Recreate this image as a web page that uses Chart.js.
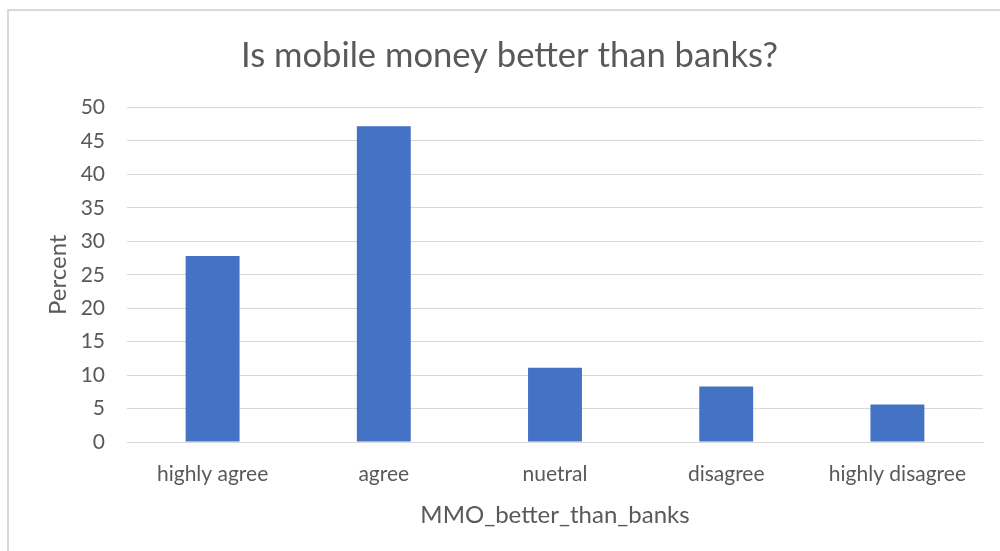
<!DOCTYPE html>
<html lang="en">
<head>
  <meta charset="UTF-8">
  <title>Is mobile money better than banks?</title>
  <script src="https://cdn.jsdelivr.net/npm/chart.js"></script>
  <style>
    html, body {
      margin: 0;
      padding: 0;
      background: #ffffff;
    }
    #wrap {
      position: relative;
      width: 1000px;
      height: 551px;
      overflow: hidden;
    }
    #frame {
      position: absolute;
      left: 7px;
      top: 9px;
      width: 1010px;
      height: 560px;
      border-left: 2px solid #d9d9d9;
      border-top: 2px solid #d9d9d9;
    }
    canvas {
      position: absolute;
      left: 0;
      top: 0;
    }
  </style>
</head>
<body>
  <div id="wrap">
    <div id="frame"></div>
    <canvas id="mmoChart" width="1000" height="551"></canvas>
  </div>

  <script>
    const categories = ['highly agree', 'agree', 'nuetral', 'disagree', 'highly disagree'];
    const percents = [27.8, 47.2, 11.1, 8.3, 5.6];
    const yTicks = [0, 5, 10, 15, 20, 25, 30, 35, 40, 45, 50];

    const textColor = '#595959';
    const gridColor = '#d9d9d9';
    const fontFamily = 'Lato, "Open Sans", sans-serif';

    const ctx = document.getElementById('mmoChart').getContext('2d');
    new Chart(ctx, {
      type: 'bar',
      data: {
        labels: categories,
        datasets: [{
          label: 'Percent',
          data: percents,
          backgroundColor: '#4472c4',
          categoryPercentage: 1,
          barPercentage: 0.315
        }]
      },
      options: {
        responsive: false,
        animation: false,
        layout: {
          // left padding keeps the title centred on the framed area
          padding: { top: 9, left: 36, right: 17, bottom: 0 }
        },
        plugins: {
          legend: { display: false },
          tooltip: { enabled: false },
          title: {
            display: true,
            text: 'Is mobile money better than banks?',
            color: textColor,
            font: { family: fontFamily, size: 34.6, weight: 'normal' },
            padding: { top: 26, bottom: 31 }
          }
        },
        scales: {
          x: {
            grid: { display: false, drawTicks: false },
            border: { display: true, color: gridColor, width: 1 },
            ticks: {
              color: textColor,
              font: { family: fontFamily, size: 21 },
              padding: 20
            },
            title: {
              display: true,
              text: 'MMO_better_than_banks',
              color: textColor,
              font: { family: fontFamily, size: 24 },
              padding: { top: 0, bottom: 21 }
            },
            afterFit: (scale) => { scale.height = 109; }
          },
          y: {
            min: 0,
            max: 50,
            afterBuildTicks: (scale) => {
              scale.ticks = yTicks.map(v => ({ value: v }));
            },
            grid: { color: gridColor, lineWidth: 1, drawTicks: false },
            border: { display: false },
            ticks: {
              color: textColor,
              font: { family: fontFamily, size: 21 },
              padding: 22
            },
            title: {
              display: true,
              text: 'Percent',
              color: textColor,
              font: { family: fontFamily, size: 24 },
              padding: { top: 8, bottom: 0 }
            },
            afterFit: (scale) => { scale.width = 91; }
          }
        }
      }
    });
  </script>
</body>
</html>
